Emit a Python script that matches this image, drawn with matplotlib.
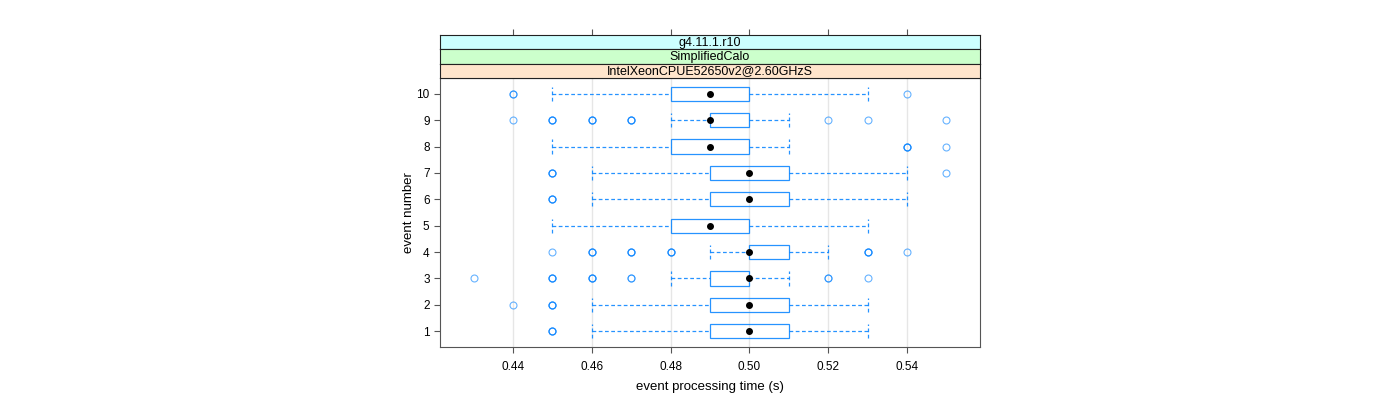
import matplotlib.pyplot as plt
from matplotlib.patches import Rectangle

plt.rcParams['font.family'] = ['Liberation Sans', 'DejaVu Sans']

# one entry per event number (1..10)
events = [1, 2, 3, 4, 5, 6, 7, 8, 9, 10]
q1 = [0.49, 0.49, 0.49, 0.50, 0.48, 0.49, 0.49, 0.48, 0.49, 0.48]
medians = [0.50, 0.50, 0.50, 0.50, 0.49, 0.50, 0.50, 0.49, 0.49, 0.49]
q3 = [0.51, 0.51, 0.50, 0.51, 0.50, 0.51, 0.51, 0.50, 0.50, 0.50]
whisk_lo = [0.46, 0.46, 0.48, 0.49, 0.45, 0.46, 0.46, 0.45, 0.48, 0.45]
whisk_hi = [0.53, 0.53, 0.51, 0.52, 0.53, 0.54, 0.54, 0.51, 0.51, 0.53]
# repeated values = several runs with the same time (drawn on top of each other)
outliers = [
    [0.45, 0.45, 0.45],
    [0.44, 0.45, 0.45, 0.45],
    [0.43, 0.45, 0.45, 0.45, 0.46, 0.46, 0.46, 0.47, 0.47, 0.52, 0.52, 0.53],
    [0.45, 0.46, 0.46, 0.46, 0.47, 0.47, 0.47, 0.48, 0.48, 0.48, 0.53, 0.53, 0.53, 0.54],
    [],
    [0.45, 0.45, 0.45],
    [0.45, 0.45, 0.45, 0.55],
    [0.54, 0.54, 0.54, 0.55],
    [0.44, 0.45, 0.45, 0.45, 0.46, 0.46, 0.46, 0.47, 0.47, 0.47, 0.52, 0.53, 0.55],
    [0.44, 0.44, 0.54],
]
strips = ['g4.11.1.r10', 'SimplifiedCalo', 'IntelXeonCPUE52650v2@2.60GHzS']
strip_cols = ['#ccffff', '#ccffcc', '#ffe5cc']
xticks = [0.44, 0.46, 0.48, 0.50, 0.52, 0.54]

blue = '#0080ff'
frame = '#555555'
W, H = 1400, 400

fig = plt.figure(figsize=(14, 4), dpi=100)
ax = fig.add_axes([440 / W, 1 - 347 / H, 540 / W, 269 / H])

bh = 0.27
for i, ev in enumerate(events):
    ax.add_patch(Rectangle((q1[i], ev - bh), q3[i] - q1[i], 2 * bh,
                           fill=False, edgecolor=blue, lw=0.9, alpha=0.85, zorder=3))
    ax.plot([whisk_lo[i], q1[i]], [ev, ev], color=blue, lw=0.9, alpha=0.85, ls=(0, (3, 2)), zorder=2)
    ax.plot([q3[i], whisk_hi[i]], [ev, ev], color=blue, lw=0.9, alpha=0.85, ls=(0, (3, 2)), zorder=2)
    for w in (whisk_lo[i], whisk_hi[i]):
        ax.plot([w, w], [ev - bh, ev + bh], color=blue, lw=0.9, alpha=0.85, ls=(0, (3, 2)), zorder=2)
    if outliers[i]:
        ax.plot(outliers[i], [ev] * len(outliers[i]), 'o', mfc='none', mec=blue,
                ms=5, mew=0.8, alpha=0.6, zorder=3)
    ax.plot([medians[i]], [ev], 'o', color='black', ms=4, zorder=4)

for x in xticks:
    ax.axvline(x, color='#e6e6e6', lw=1, zorder=0)

ax.set_xlim(0.4215, 0.5585)
ax.set_ylim(0.4, 10.6)
ax.set_xticks(xticks)
ax.set_xticklabels(['%.2f' % x for x in xticks])
ax.set_yticks(events)
ax.tick_params(labelsize=8.5, color=frame, length=4, width=0.8)
ax.tick_params(axis='x', pad=6)
for s in ax.spines.values():
    s.set_color(frame)
    s.set_linewidth(0.8)
ax.set_xlabel('event processing time (s)', fontsize=9.5, labelpad=6)
ax.set_ylabel('event number', fontsize=9.5, labelpad=1)

# strips above the panel, outermost on top
sh = 43 / 3
for k, (lab, col) in enumerate(zip(strips, strip_cols)):
    top = 35 + k * sh
    sax = fig.add_axes([440 / W, 1 - (top + sh) / H, 540 / W, sh / H], sharex=ax)
    sax.set_facecolor(col)
    sax.set_yticks([])
    sax.text(0.5, 0.45, lab, transform=sax.transAxes, ha='center', va='center', fontsize=9)
    for s in sax.spines.values():
        s.set_color('#222222')
        s.set_linewidth(0.8)
    if k == 0:
        sax.tick_params(axis='x', top=True, bottom=False, labeltop=False,
                        labelbottom=False, color=frame, length=4, width=0.8)
    else:
        sax.tick_params(axis='x', top=False, bottom=False, labelbottom=False)

fig.savefig('out.png', dpi=100)
